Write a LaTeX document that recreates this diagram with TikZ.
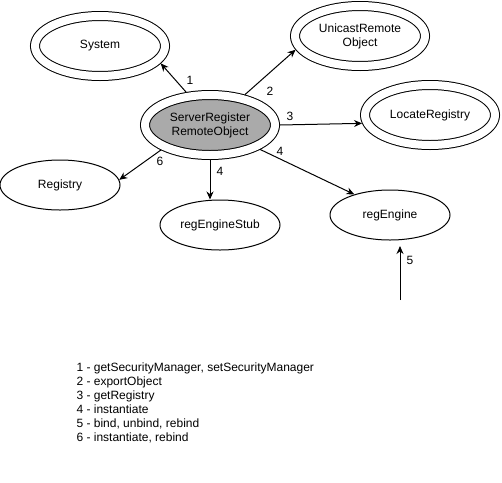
\documentclass[tikz,border=0pt]{standalone}
\usepackage{fontspec}
\setmainfont{Liberation Sans}
\usetikzlibrary{shapes.geometric, arrows.meta}
\definecolor{srvgray}{RGB}{170,170,170}
\tikzstyle{arrow} = [line width=1pt,->,>={Stealth[length=8pt,width=7pt]}]

\begin{document}
\begin{tikzpicture}[x=1pt,y=-1pt, every node/.style={font=\fontsize{12}{14}\selectfont}]
    \tikzstyle{object}=[ellipse, draw, line width=1pt, minimum width=120pt, minimum height=50pt, inner sep=0pt, outer sep=0.5pt, align=center]
    \tikzstyle{class}=[object, double, double distance=8pt, minimum width=130pt, minimum height=60pt, outer sep=5pt]
    \tikzstyle{server}=[class, fill=srvgray]
    \tikzstyle{num}=[inner sep=0pt]

    \useasboundingbox (0,0) rectangle (502,482);

    % Draw the static classes
    \node[class] (sys) at (100,46) {System};
    \node[class] (uro) at (360,36) {UnicastRemote\\Object};
    \node[class] (loc) at (430,115) {LocateRegistry};

    % Draw the server object
    \node[server] (srv) at (210,125) {ServerRegister\\RemoteObject};

    % Draw the instances
    \node[object] (reg) at (60,185) {Registry};
    \node[object] (stub) at (220,225) {regEngineStub};
    \node[object] (eng) at (390,215) {regEngine};
    \coordinate (e5) at (400,300);

    % Draw the calls
    \draw[arrow] (srv.126) -- (sys.-16);
    \draw[arrow] (srv.41) -- (uro.192);
    \draw[arrow] (srv.east) -- (loc.187);
    \draw[arrow] (srv.-26) -- (eng.150);
    \draw[arrow] (srv.south) -- (srv.south |- stub.north);
    \draw[arrow, shorten >=5.5pt] (e5) -- (e5 |- eng.south);
    \draw[arrow] (srv.207) -- (reg.5);

    % Numbers of the calls
    \node[num] (n1) at (190,80) {1};
    \node[num] (n2) at (270,91) {2};
    \node[num] (n3) at (290,116) {3};
    \node[num] (n4a) at (280,151) {4};
    \node[num] (n4b) at (220,171) {4};
    \node[num] (n5) at (410,260) {5};
    \node[num] (n6) at (160,161) {6};

    % Legend
    \node[anchor=north west, align=left] (legend) at (73,359.5) {1 - getSecurityManager, setSecurityManager\\2 - exportObject\\3 - getRegistry\\4 - instantiate\\5 - bind, unbind, rebind\\6 - instantiate, rebind};
\end{tikzpicture}
\end{document}
